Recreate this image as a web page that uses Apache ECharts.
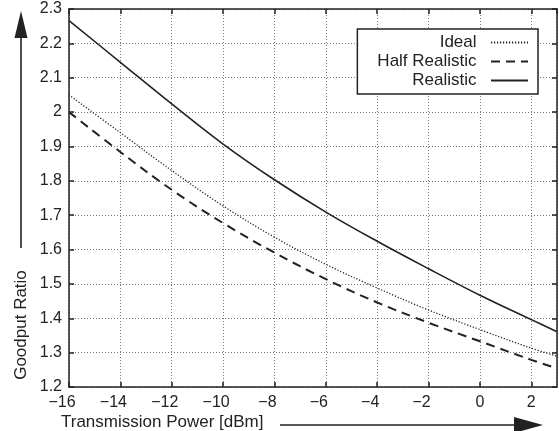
<!DOCTYPE html>
<html>
<head>
<meta charset="utf-8">
<script src="https://cdn.jsdelivr.net/npm/echarts@6/dist/echarts.min.js"></script>
<style>
html,body{margin:0;padding:0;background:#fff;}
#c{width:559px;height:431px;}
</style>
</head>
<body>
<div id="c"></div>
<script>
var xValues = [-16, -14, -12, -10, -8, -6, -4, -2, 0, 2, 3];
var idealValues = [2.050, 1.940, 1.830, 1.727, 1.636, 1.557, 1.488, 1.424, 1.367, 1.313, 1.290];
var halfRealisticValues = [2.000, 1.884, 1.774, 1.677, 1.591, 1.514, 1.446, 1.387, 1.333, 1.279, 1.254];
var realisticValues = [2.266, 2.145, 2.024, 1.907, 1.803, 1.709, 1.624, 1.544, 1.467, 1.396, 1.361];
var seriesNames = ['Ideal', 'Half Realistic', 'Realistic'];
var xTitle = 'Transmission Power [dBm]';
var yTitle = 'Goodput Ratio';

var FONT = '"Liberation Sans", Arial, Helvetica, sans-serif';
var INK = '#222';

function pairs(vals) { return xValues.map(function (x, i) { return [x, vals[i]]; }); }

var chart = echarts.init(document.getElementById('c'), null, { renderer: 'canvas' });

var gridStyle = { show: true, lineStyle: { color: '#777', width: 1, type: [1, 2] } };
var axisLineStyle = { show: true, onZero: false, lineStyle: { color: INK, width: 1.5 } };
var tickStyle = { show: true, inside: true, length: 5, lineStyle: { color: INK, width: 1.5 } };

chart.setOption({
  animation: false,
  backgroundColor: '#fff',
  grid: { left: 69, right: 2, top: 9, bottom: 44, containLabel: false },
  xAxis: [{
    type: 'value', min: -16, max: 3, interval: 2, position: 'bottom',
    axisLine: axisLineStyle, axisTick: tickStyle, splitLine: gridStyle,
    axisLabel: {
      show: true, margin: 8, color: INK, fontFamily: FONT, fontSize: 16, showMaxLabel: false,
      formatter: function (v) {
        if (v === 3) return '';
        return v < 0 ? '{neg|\u2212' + Math.abs(v) + '}' : String(v);
      },
      rich: { neg: { color: INK, fontFamily: FONT, fontSize: 16, padding: [0, 14, 0, 0] } }
    }
  }, {
    type: 'value', min: -16, max: 3, interval: 2, position: 'top',
    axisLine: axisLineStyle, axisTick: tickStyle, splitLine: { show: false }, axisLabel: { show: false }
  }],
  yAxis: [{
    type: 'value', min: 1.2, max: 2.3, interval: 0.1, position: 'left',
    axisLine: axisLineStyle, axisTick: tickStyle, splitLine: gridStyle,
    axisLabel: {
      show: true, margin: 7, color: INK, fontFamily: FONT, fontSize: 16,
      formatter: function (v) { return String(+v.toFixed(1)); }
    }
  }, {
    type: 'value', min: 1.2, max: 2.3, interval: 0.1, position: 'right',
    axisLine: axisLineStyle, axisTick: tickStyle, splitLine: { show: false }, axisLabel: { show: false }
  }],
  legend: {
    show: true, orient: 'vertical', align: 'right', right: 21, top: 29,
    backgroundColor: '#fff', borderColor: INK, borderWidth: 1.5, borderRadius: 0,
    padding: [5, 9, 5, 20], itemGap: 2, itemWidth: 37, itemHeight: 12,
    itemStyle: { opacity: 0 },
    textStyle: { color: INK, fontFamily: FONT, fontSize: 17, lineHeight: 17 },
    formatter: function (n) { return n + '  '; },
    data: seriesNames
  },
  series: [{
    name: seriesNames[0], type: 'line', smooth: 0.4, symbol: 'none',
    lineStyle: { color: INK, width: 1.3, type: [1.2, 1.8] }, itemStyle: { color: INK },
    data: pairs(idealValues)
  }, {
    name: seriesNames[1], type: 'line', smooth: 0.4, symbol: 'none',
    lineStyle: { color: INK, width: 2, type: [9, 6] }, itemStyle: { color: INK },
    data: pairs(halfRealisticValues)
  }, {
    name: seriesNames[2], type: 'line', smooth: 0.4, symbol: 'none',
    lineStyle: { color: INK, width: 1.6, type: 'solid' }, itemStyle: { color: INK },
    data: pairs(realisticValues)
  }],
  graphic: [
    { type: 'text', x: 61, y: 422, style: { text: xTitle, fill: INK, font: '17px ' + FONT, textVerticalAlign: 'middle', textAlign: 'left' } },
    { type: 'line', shape: { x1: 280, y1: 425, x2: 520, y2: 425 }, style: { stroke: INK, lineWidth: 1.6 } },
    { type: 'polygon', shape: { points: [[543, 425], [514, 417], [514, 433]] }, style: { fill: INK } },
    { type: 'text', x: 21, y: 325, rotation: Math.PI / 2, style: { text: yTitle, fill: INK, font: '17px ' + FONT, textVerticalAlign: 'middle', textAlign: 'center' } },
    { type: 'line', shape: { x1: 21, y1: 248, x2: 21, y2: 36 }, style: { stroke: INK, lineWidth: 1.6 } },
    { type: 'polygon', shape: { points: [[21, 11], [14.5, 38], [27.5, 38]] }, style: { fill: INK } }
  ]
});
</script>
</body>
</html>
